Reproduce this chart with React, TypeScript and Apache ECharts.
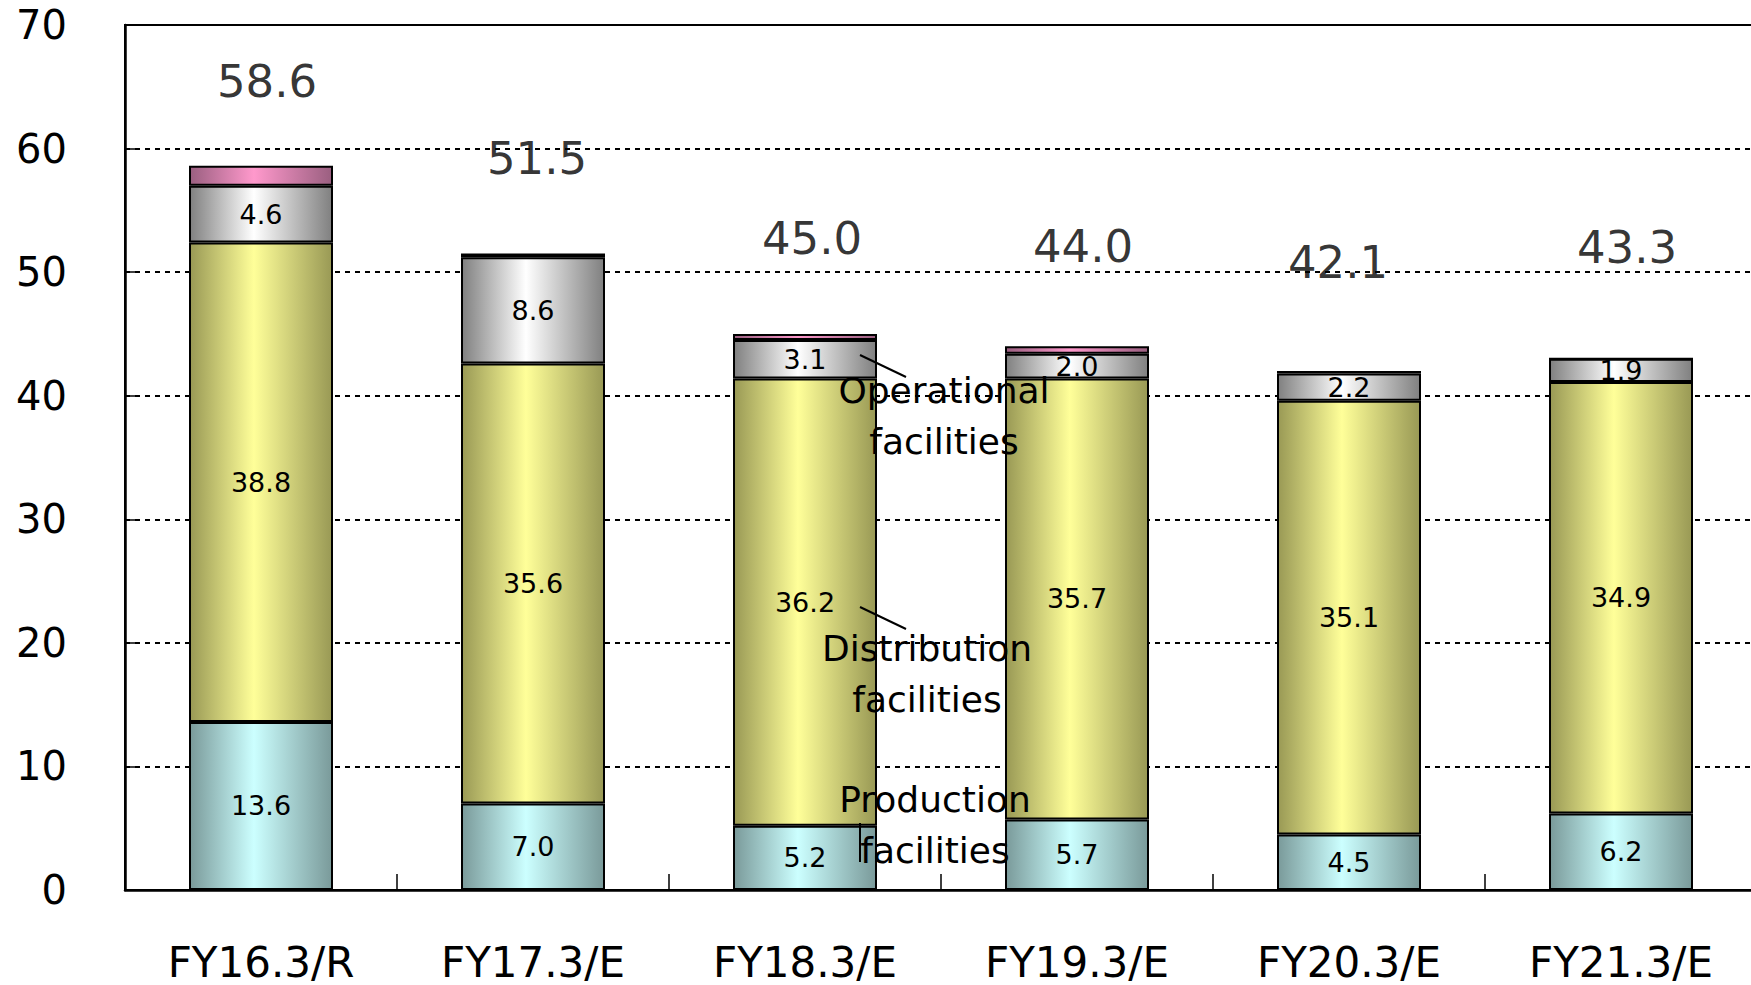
import React, { useEffect, useRef } from "react";
import * as echarts from "echarts";

const categories = ["FY16.3/R", "FY17.3/E", "FY18.3/E", "FY19.3/E", "FY20.3/E", "FY21.3/E"];
const production = [13.6, 7.0, 5.2, 5.7, 4.5, 6.2];
const distribution = [38.8, 35.6, 36.2, 35.7, 35.1, 34.9];
const operational = [4.6, 8.6, 3.1, 2.0, 2.2, 1.9];
const other = [1.6, 0.3, 0.5, 0.6, 0.2, 0];
const totals = [58.6, 51.5, 45.0, 44.0, 42.1, 43.3];
const yTicks = [0, 10, 20, 30, 40, 50, 60, 70];

// label placement offsets for total labels (px)
const totalLabelOffsets = [
  [6, -84],
  [4, -95],
  [7, -95],
  [6, -100],
  [-11, -107],
  [6, -107],
];

const FONT = "DejaVu Sans";

function grad(edge: string, mid: string) {
  return new echarts.graphic.LinearGradient(0, 0, 1, 0, [
    { offset: 0, color: edge },
    { offset: 0.45, color: mid },
    { offset: 1, color: edge },
  ]);
}

export default function App() {
  const ref = useRef<HTMLDivElement>(null);
  useEffect(() => {
    if (!ref.current) return;
    const chart = echarts.init(ref.current, null, { renderer: "svg" });
    const barBase = {
      type: "bar",
      stack: "total",
      barWidth: 144,
      label: {
        show: true,
        position: "inside",
        color: "#000",
        fontFamily: FONT,
        fontSize: 27,
        formatter: (p: any) => p.value.toFixed(1),
      },
    };
    const option: any = {
      animation: false,
      backgroundColor: "#fff",
      grid: {
        left: 125,
        top: 25,
        width: 1632,
        height: 865,
        show: true,
        borderColor: "#000",
        borderWidth: 2,
        backgroundColor: "transparent",
      },
      xAxis: {
        type: "category",
        data: categories,
        axisLine: { lineStyle: { color: "#000", width: 2.5 } },
        axisTick: { show: true, inside: true, length: 16, lineStyle: { color: "#000", width: 1.5 } },
        axisLabel: { color: "#000", fontFamily: FONT, fontSize: 42, lineHeight: 42, margin: 51 },
      },
      yAxis: {
        type: "value",
        min: yTicks[0],
        max: yTicks[yTicks.length - 1],
        interval: 10,
        axisLine: { show: true, lineStyle: { color: "#000", width: 2.5 } },
        axisTick: { show: true, inside: true, length: 12, lineStyle: { color: "#000", width: 1.5 } },
        axisLabel: { color: "#000", fontFamily: FONT, fontSize: 40, margin: 58 },
        splitLine: { show: true, lineStyle: { color: "#000", width: 2, type: [5, 5] } },
      },
      series: [
        {
          ...barBase,
          name: "Production facilities",
          data: production,
          itemStyle: { color: grad("#7a9a9a", "#ccffff"), borderColor: "#000", borderWidth: 2 },
        },
        {
          ...barBase,
          name: "Distribution facilities",
          data: distribution,
          itemStyle: { color: grad("#999955", "#ffff99"), borderColor: "#000", borderWidth: 2 },
        },
        {
          ...barBase,
          name: "Operational facilities",
          data: operational,
          itemStyle: { color: grad("#808080", "#ffffff"), borderColor: "#000", borderWidth: 2 },
        },
        {
          ...barBase,
          name: "Other",
          data: other,
          label: { show: false },
          itemStyle: { color: grad("#9a5f80", "#ff99cc"), borderColor: "#000", borderWidth: 2 },
        },
        {
          type: "scatter",
          name: "Total",
          symbolSize: 0,
          data: totals.map((v, i) => ({
            value: v,
            label: { offset: totalLabelOffsets[i] },
          })),
          label: {
            show: true,
            position: "inside",
            color: "#000",
            textBorderWidth: 0,
            fontFamily: FONT,
            fontSize: 45,
            formatter: (p: any) => p.value.toFixed(1),
          },
          z: 10,
        },
      ],
      graphic: [
        { type: "line", shape: { x1: 860, y1: 355, x2: 906, y2: 377 }, style: { stroke: "#000", lineWidth: 2 }, z: 100 },
        { type: "line", shape: { x1: 860, y1: 607, x2: 906, y2: 629 }, style: { stroke: "#000", lineWidth: 2 }, z: 100 },
        { type: "line", shape: { x1: 860, y1: 823, x2: 860, y2: 862 }, style: { stroke: "#000", lineWidth: 2 }, z: 100 },
        {
          type: "text",
          x: 944,
          y: 416,
          z: 100,
          style: {
            text: "Operational\nfacilities",
            font: `36px "${FONT}"`,
            fill: "#000",
            align: "center",
            verticalAlign: "middle",
            lineHeight: 51,
          },
        },
        {
          type: "text",
          x: 927,
          y: 674,
          z: 100,
          style: {
            text: "Distribution\nfacilities",
            font: `36px "${FONT}"`,
            fill: "#000",
            align: "center",
            verticalAlign: "middle",
            lineHeight: 51,
          },
        },
        {
          type: "text",
          x: 935,
          y: 825,
          z: 100,
          style: {
            text: "Production\nfacilities",
            font: `36px "${FONT}"`,
            fill: "#000",
            align: "center",
            verticalAlign: "middle",
            lineHeight: 51,
          },
        },
      ],
    };
    chart.setOption(option);
    return () => chart.dispose();
  }, []);
  return (
    <div
      ref={ref}
      style={{ position: "fixed", left: 0, top: 0, width: 1764, height: 985, background: "#fff" }}
    />
  );
}
